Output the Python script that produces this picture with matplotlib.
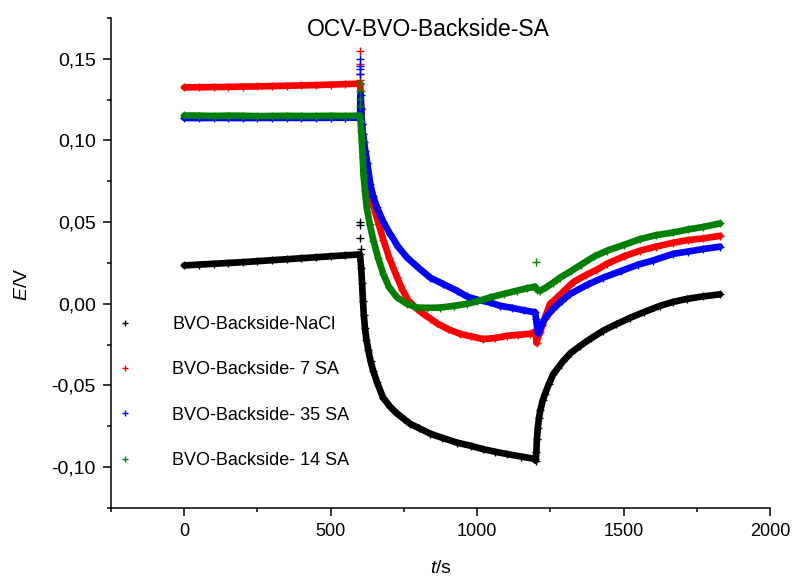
import matplotlib
matplotlib.use('Agg')
import matplotlib.pyplot as plt
from matplotlib.lines import Line2D
from matplotlib.ticker import MultipleLocator, FuncFormatter

plt.rcParams['font.family'] = ['Liberation Sans', 'DejaVu Sans']
plt.rcParams['mathtext.fontset'] = 'custom'
plt.rcParams['mathtext.rm'] = 'Liberation Sans'
plt.rcParams['mathtext.it'] = 'Liberation Sans:italic'

# OCV curves (t in s, E in V)
flat_t = [0, 50, 100, 150, 200, 250, 300, 350, 400, 450, 500, 550, 600]

black_t = flat_t + [604, 607, 610, 613, 617, 622, 628, 636, 645, 658, 679, 703, 725, 750, 771,
                    800, 840, 880, 931, 980, 1020, 1060, 1102, 1150, 1198,
                    1200, 1202, 1204, 1207, 1211, 1216, 1224, 1232, 1245, 1260, 1277, 1294,
                    1320, 1352, 1390, 1430, 1475, 1522, 1570, 1625, 1670, 1716, 1770, 1829]
black_e = [0.0235, 0.0240, 0.0245, 0.0250, 0.0255, 0.0261, 0.0267, 0.0273, 0.0279, 0.0285,
           0.0291, 0.0297, 0.0302,
           0.022, 0.013, 0.002, -0.007, -0.015, -0.022, -0.028, -0.035, -0.041, -0.048,
           -0.0576, -0.063, -0.067, -0.0705, -0.0735, -0.076, -0.0795, -0.082, -0.085,
           -0.087, -0.089, -0.0905, -0.092, -0.0935, -0.095,
           -0.096, -0.091, -0.083, -0.076, -0.070, -0.065, -0.059, -0.055, -0.049, -0.043,
           -0.039, -0.035, -0.030, -0.0257, -0.021, -0.0165, -0.0125, -0.0086, -0.005,
           -0.0012, 0.0012, 0.003, 0.0045, 0.0058]
black_spike_t = [600, 600, 601, 602]
black_spike_e = [0.0498, 0.0480, 0.0404, 0.0337]

red_t = flat_t + [602, 604, 607, 611, 616, 622, 630, 640, 652, 665, 680, 700, 726, 745, 765,
                  794, 817, 840, 863, 900, 942, 980, 1020, 1060, 1102, 1140, 1181, 1198,
                  1201, 1203, 1206, 1215, 1230, 1249, 1261, 1283, 1300, 1330, 1370, 1410,
                  1443, 1500, 1556, 1610, 1670, 1720, 1770, 1829]
red_e = [0.1325, 0.1326, 0.1327, 0.1328, 0.1330, 0.1331, 0.1333, 0.1335, 0.1337, 0.1339,
         0.1342, 0.1345, 0.1348,
         0.130, 0.120, 0.110, 0.100, 0.090, 0.080, 0.071, 0.064, 0.056, 0.048, 0.039, 0.028,
         0.0165, 0.0085, 0.002, -0.003, -0.0063, -0.009, -0.012, -0.0155, -0.0184, -0.020,
         -0.0216, -0.021, -0.0196, -0.019, -0.0184, -0.017,
         -0.020, -0.024, -0.021, -0.0175, -0.009, 0.000, 0.0018, 0.0055, 0.0085, 0.0135,
         0.0175, 0.021, 0.0245, 0.029, 0.0325, 0.035, 0.0374, 0.039, 0.040, 0.0416]
red_spike_t = [601, 601, 601, 601]
red_spike_e = [0.155, 0.147, 0.141, 0.137]

blue_t = flat_t + [602, 604, 606, 610, 614, 618, 625, 635, 645, 658, 680, 703, 730, 760, 800,
                   840, 885, 931, 965, 1000, 1044, 1078, 1120, 1160, 1198,
                   1201, 1203, 1206, 1209, 1220, 1235, 1260, 1290, 1317, 1380, 1430, 1490,
                   1550, 1600, 1670, 1720, 1770, 1829]
blue_e = [0.1138, 0.1137, 0.1138, 0.1138, 0.1137, 0.1138, 0.1138, 0.1139, 0.1138, 0.1138,
          0.1139, 0.1139, 0.1140,
          0.128, 0.119, 0.110, 0.104, 0.099, 0.0937, 0.086, 0.0733, 0.066, 0.059, 0.050,
          0.0427, 0.035, 0.0284, 0.022, 0.016, 0.012, 0.008, 0.0045, 0.0025, 0.0008,
          -0.0012, -0.0025, -0.004, -0.0052,
          -0.009, -0.012, -0.016, -0.018, -0.013, -0.008, -0.003, 0.002, 0.006, 0.012,
          0.016, 0.020, 0.024, 0.0265, 0.0306, 0.032, 0.0335, 0.035]
blue_spike_t = [601, 601, 601, 601]
blue_spike_e = [0.150, 0.1457, 0.144, 0.141]

green_t = flat_t + [602, 604, 606, 609, 612, 617, 623, 633, 646, 662, 680, 700, 726, 760, 794,
                    830, 874, 920, 965, 1000, 1044, 1090, 1135, 1170, 1198,
                    1205, 1215, 1235, 1260, 1283, 1320, 1355, 1400, 1443, 1500, 1556, 1610,
                    1670, 1720, 1770, 1829]
green_e = [0.1153, 0.1152, 0.1150, 0.1152, 0.1151, 0.1149, 0.1150, 0.1151, 0.1150, 0.1150,
           0.1151, 0.1150, 0.1152,
           0.112, 0.106, 0.100, 0.090, 0.079, 0.069, 0.059, 0.049, 0.0386, 0.028, 0.018,
           0.010, 0.004, 0.000, -0.0023, -0.0025, -0.0023, -0.0013, 0.000, 0.0015, 0.0039,
           0.006, 0.008, 0.0095, 0.0105,
           0.0085, 0.008, 0.010, 0.013, 0.016, 0.020, 0.024, 0.029, 0.0325, 0.036, 0.0396,
           0.042, 0.0437, 0.0455, 0.047, 0.0492]
green_spike_t = [601, 601, 601, 601, 1201]
green_spike_e = [0.135, 0.130, 0.1255, 0.121, 0.0257]

labels = ['BVO-Backside-NaCl', 'BVO-Backside- 7 SA', 'BVO-Backside- 35 SA', 'BVO-Backside- 14 SA']
colors = ['black', 'red', 'blue', 'green']
series = [(black_t, black_e, black_spike_t, black_spike_e),
          (red_t, red_e, red_spike_t, red_spike_e),
          (blue_t, blue_e, blue_spike_t, blue_spike_e),
          (green_t, green_e, green_spike_t, green_spike_e)]

fig = plt.figure(figsize=(7.92, 5.76), dpi=100)
ax = fig.add_axes([0.1402, 0.1181, 0.8321, 0.8507])

for (t, e, st, se), c in zip(series, colors):
    ax.plot(t, e, color=c, lw=4.8, marker='+', ms=5.5, mew=1.0,
            solid_joinstyle='round', solid_capstyle='round')
    ax.plot(st, se, color=c, ls='none', marker='+', ms=5.5, mew=1.0)

ax.set_xlim(-250, 2000)
ax.set_ylim(-0.125, 0.175)
ax.xaxis.set_major_locator(MultipleLocator(500))
ax.xaxis.set_minor_locator(MultipleLocator(250))
ax.yaxis.set_major_locator(MultipleLocator(0.05))
ax.yaxis.set_minor_locator(MultipleLocator(0.025))
ax.yaxis.set_major_formatter(FuncFormatter(lambda v, p: f'{v:.2f}'.replace('.', ',')))
ax.xaxis.set_major_formatter(FuncFormatter(lambda v, p: f'{v:.0f}'))

for s in ['top', 'right']:
    ax.spines[s].set_visible(False)
for s in ['left', 'bottom']:
    ax.spines[s].set_linewidth(1.1)
ax.tick_params(which='major', direction='out', length=6, width=1.1, pad=5)
ax.tick_params(which='minor', direction='out', length=3, width=1.1)
ax.tick_params(axis='x', labelsize=13)
ax.tick_params(axis='y', labelsize=14)

ax.set_xlabel(r'$\mathit{t}$/s', fontsize=14)
ax.set_ylabel(r'$\mathit{E}$/V', fontsize=14)
ax.xaxis.set_label_coords(0.5, -0.106)
ax.yaxis.set_label_coords(-0.121, 0.457)

fig.text(428 / 792, 1 - 30 / 576, 'OCV-BVO-Backside-SA', ha='center', va='center', fontsize=16.5)

handles = [Line2D([], [], color=c, ls='none', marker='+', ms=5, mew=1.0) for c in colors]
ax.legend(handles, labels, loc='upper left', bbox_to_anchor=(0.0076, 0.392), frameon=False,
          handlelength=1.0, handletextpad=2.1, labelspacing=1.57, fontsize=13,
          borderpad=0, borderaxespad=0)

fig.savefig('out.png', dpi=100)
